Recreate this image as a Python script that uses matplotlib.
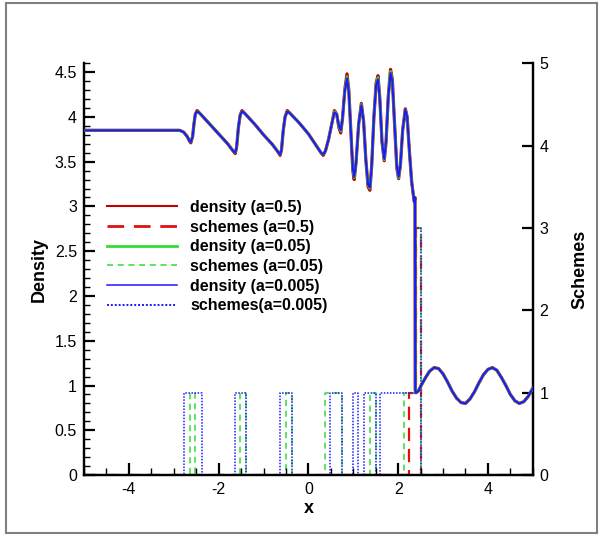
import matplotlib
matplotlib.use("Agg")
import matplotlib.pyplot as plt
from matplotlib.patches import Rectangle
from matplotlib.ticker import MultipleLocator

plt.rcParams['font.family'] = ['Liberation Sans', 'DejaVu Sans']

# density curves
x_rho = [-5.00, -3.00, -2.87, -2.78, -2.70, -2.65, -2.62, -2.58, -2.55, -2.52,
         -2.48, -2.42, -2.20, -2.00, -1.80, -1.68, -1.63, -1.60, -1.56, -1.52,
         -1.48, -1.42, -1.20, -1.00, -0.80, -0.68, -0.63, -0.60, -0.56, -0.52,
         -0.47, -0.41, -0.20, 0.00, 0.20, 0.28, 0.33, 0.38, 0.45, 0.52,
         0.58, 0.63, 0.68, 0.72, 0.76, 0.81, 0.86, 0.90, 0.95, 0.99,
         1.02, 1.06, 1.12, 1.18, 1.23, 1.28, 1.33, 1.37, 1.41, 1.46,
         1.51, 1.55, 1.59, 1.64, 1.69, 1.73, 1.78, 1.83, 1.87, 1.92,
         1.97, 2.01, 2.05, 2.10, 2.16, 2.20, 2.25, 2.30, 2.34, 2.36,
         2.375, 2.38, 2.40, 2.45, 2.50, 2.60, 2.70, 2.80, 2.90, 3.00,
         3.10, 3.20, 3.30, 3.40, 3.50, 3.60, 3.70, 3.80, 3.90, 4.00,
         4.10, 4.20, 4.30, 4.40, 4.50, 4.60, 4.70, 4.80, 4.90, 5.00]

rho_a0005 = [3.85, 3.85, 3.85, 3.83, 3.78, 3.73, 3.72, 3.78, 3.92, 4.03,
             4.06, 4.04, 3.92, 3.81, 3.70, 3.62, 3.60, 3.66, 3.88, 4.02,
             4.06, 4.04, 3.92, 3.80, 3.69, 3.61, 3.58, 3.63, 3.85, 4.00,
             4.06, 4.04, 3.93, 3.81, 3.66, 3.60, 3.58, 3.62, 3.75, 3.92,
             4.05, 4.03, 3.90, 3.85, 3.98, 4.28, 4.43, 4.28, 3.80, 3.42,
             3.33, 3.48, 3.92, 4.13, 3.95, 3.52, 3.24, 3.21, 3.45, 4.00,
             4.36, 4.42, 4.20, 3.72, 3.53, 3.72, 4.22, 4.49, 4.40, 3.92,
             3.45, 3.33, 3.46, 3.85, 4.08, 4.00, 3.62, 3.28, 3.12, 3.05,
             3.10, 0.95, 0.92, 0.94, 0.99, 1.08, 1.16, 1.20, 1.19, 1.13,
             1.04, 0.94, 0.86, 0.81, 0.80, 0.85, 0.93, 1.03, 1.12, 1.18,
             1.20, 1.17, 1.09, 1.00, 0.90, 0.83, 0.80, 0.82, 0.88, 0.97]

rho_a005 = [3.85, 3.85, 3.85, 3.83, 3.78, 3.73, 3.72, 3.78, 3.92, 4.03,
            4.06, 4.04, 3.92, 3.81, 3.70, 3.62, 3.60, 3.66, 3.88, 4.02,
            4.06, 4.04, 3.92, 3.80, 3.69, 3.61, 3.58, 3.63, 3.85, 4.00,
            4.06, 4.04, 3.93, 3.81, 3.66, 3.60, 3.58, 3.62, 3.75, 3.92,
            4.06, 4.03, 3.89, 3.84, 3.98, 4.29, 4.45, 4.29, 3.80, 3.41,
            3.32, 3.48, 3.92, 4.14, 3.95, 3.52, 3.23, 3.20, 3.45, 4.00,
            4.37, 4.44, 4.21, 3.72, 3.52, 3.72, 4.22, 4.51, 4.41, 3.92,
            3.44, 3.32, 3.46, 3.85, 4.08, 4.00, 3.62, 3.28, 3.12, 3.05,
            3.10, 0.95, 0.92, 0.94, 0.99, 1.08, 1.16, 1.20, 1.19, 1.13,
            1.04, 0.94, 0.86, 0.81, 0.80, 0.85, 0.93, 1.03, 1.12, 1.18,
            1.20, 1.17, 1.09, 1.00, 0.90, 0.83, 0.80, 0.82, 0.88, 0.97]

rho_a05 = [3.85, 3.85, 3.85, 3.83, 3.78, 3.73, 3.71, 3.78, 3.92, 4.03,
           4.07, 4.04, 3.92, 3.81, 3.70, 3.62, 3.59, 3.66, 3.88, 4.02,
           4.07, 4.04, 3.92, 3.80, 3.69, 3.61, 3.57, 3.63, 3.85, 4.00,
           4.07, 4.04, 3.93, 3.81, 3.66, 3.60, 3.57, 3.62, 3.75, 3.92,
           4.07, 4.03, 3.88, 3.82, 3.98, 4.30, 4.48, 4.30, 3.80, 3.40,
           3.30, 3.48, 3.92, 4.15, 3.95, 3.52, 3.22, 3.18, 3.45, 4.00,
           4.38, 4.46, 4.22, 3.72, 3.51, 3.72, 4.23, 4.53, 4.42, 3.92,
           3.43, 3.31, 3.46, 3.85, 4.09, 4.00, 3.62, 3.28, 3.12, 3.05,
           3.10, 0.95, 0.92, 0.94, 0.99, 1.08, 1.16, 1.20, 1.19, 1.13,
           1.04, 0.94, 0.86, 0.81, 0.80, 0.85, 0.93, 1.03, 1.12, 1.18,
           1.20, 1.17, 1.09, 1.00, 0.90, 0.83, 0.80, 0.82, 0.88, 0.97]

# scheme indicators (step edges and values)
x_sch_a05 = [-5.0, 2.24, 2.39, 2.50, 5.0]
sch_a05 = [0, 1, 3, 0, 0]

x_sch_a005 = [-5.0, -2.63, -2.52, -1.52, -1.39, -0.50, -0.37, 0.37, 0.74,
              1.37, 1.50, 2.12, 2.39, 2.50, 5.0]
sch_a005 = [0, 1, 0, 1, 0, 1, 0, 1, 0, 1, 0, 1, 3, 0, 0]

x_sch_a0005 = [-5.0, -2.77, -2.37, -1.64, -1.39, -0.64, -0.37, 0.48, 0.74,
               1.00, 1.11, 1.24, 1.50, 1.59, 2.39, 2.50, 5.0]
sch_a0005 = [0, 1, 0, 1, 0, 1, 0, 1, 0, 1, 0, 1, 0, 1, 3, 0, 0]

fig = plt.figure(figsize=(6, 5.35), dpi=100)
ax = fig.add_axes([0.14, 0.112, 0.748, 0.770])
ax2 = ax.twinx()

red_d = '#c00000'
red_s = '#e01010'
green = '#33dd33'
blue = '#1a1aff'

l1, = ax.plot(x_rho, rho_a05, color=red_d, lw=2.3, zorder=3)
l3, = ax.plot(x_rho, rho_a005, color=green, lw=1.8, zorder=4)
l5, = ax.plot(x_rho, rho_a0005, color=blue, lw=1.5, zorder=5)

l2, = ax2.plot(x_sch_a05, sch_a05, color=red_s, lw=1.6, ls=(0, (6, 3.5)),
               drawstyle='steps-post')
l4, = ax2.plot(x_sch_a005, sch_a005, color=green, lw=1.1, ls=(0, (4, 3)),
               drawstyle='steps-post')
l6, = ax2.plot(x_sch_a0005, sch_a0005, color=blue, lw=1.1, ls=(0, (1, 1)),
               drawstyle='steps-post')

# density on top of the scheme lines
ax.set_zorder(ax2.get_zorder() + 1)
ax.patch.set_visible(False)

ax.set_xlim(-5, 5)
ax.set_ylim(0, 4.6)
ax2.set_ylim(0, 5)

ax.xaxis.set_major_locator(MultipleLocator(2))
ax.xaxis.set_minor_locator(MultipleLocator(0.5))
ax.yaxis.set_major_locator(MultipleLocator(0.5))
ax.yaxis.set_minor_locator(MultipleLocator(0.1))
ax2.yaxis.set_major_locator(MultipleLocator(1))

for a in (ax, ax2):
    a.spines['top'].set_visible(False)
    for s in a.spines.values():
        s.set_linewidth(1.6)
ax.tick_params(which='major', direction='in', length=8, width=1.6,
               labelsize=11.5, pad=5)
ax.tick_params(which='minor', direction='in', length=4, width=1.0)
ax.tick_params(axis='x', which='major', length=9)
ax.tick_params(axis='x', which='minor', length=5)
ax2.tick_params(which='major', direction='in', length=8, width=1.6,
                labelsize=11.5, pad=5)
ax.set_xticks([-4, -2, 0, 2, 4])
ax.set_xticklabels(['-4', '-2', '0', '2', '4'])
ax.set_yticks([0, 0.5, 1, 1.5, 2, 2.5, 3, 3.5, 4, 4.5])
ax.set_yticklabels(['0', '0.5', '1', '1.5', '2', '2.5', '3', '3.5', '4', '4.5'])

ax.set_xlabel('x', fontsize=13, fontweight='bold', labelpad=2)
ax.set_ylabel('Density', fontsize=13, fontweight='bold', labelpad=5)
ax2.set_ylabel('Schemes', fontsize=13, fontweight='bold', labelpad=16)

handles = [l1, l2, l3, l4, l5, l6]
labels = ['density (a=0.5)', 'schemes (a=0.5)', 'density (a=0.05)',
          'schemes (a=0.05)', 'density (a=0.005)', 'schemes(a=0.005)']
leg = ax.legend(handles, labels, loc='upper left', frameon=False,
                bbox_to_anchor=(99 / 600, 1 - 192 / 535),
                bbox_transform=fig.transFigure, borderpad=0,
                prop={'weight': 'bold', 'size': 11.5},
                handlelength=4.4, handletextpad=0.8, labelspacing=0.29)
for h, w in zip(leg.get_lines(), [1.5, 2.0, 2.0, 1.1, 1.1, 1.4]):
    h.set_linewidth(w)

fig.patches.append(Rectangle((6 / 600, 2 / 535), 591 / 600, 530 / 535,
                             transform=fig.transFigure, fill=False,
                             edgecolor='#808080', lw=1.5))

fig.savefig('out.png', dpi=100)
